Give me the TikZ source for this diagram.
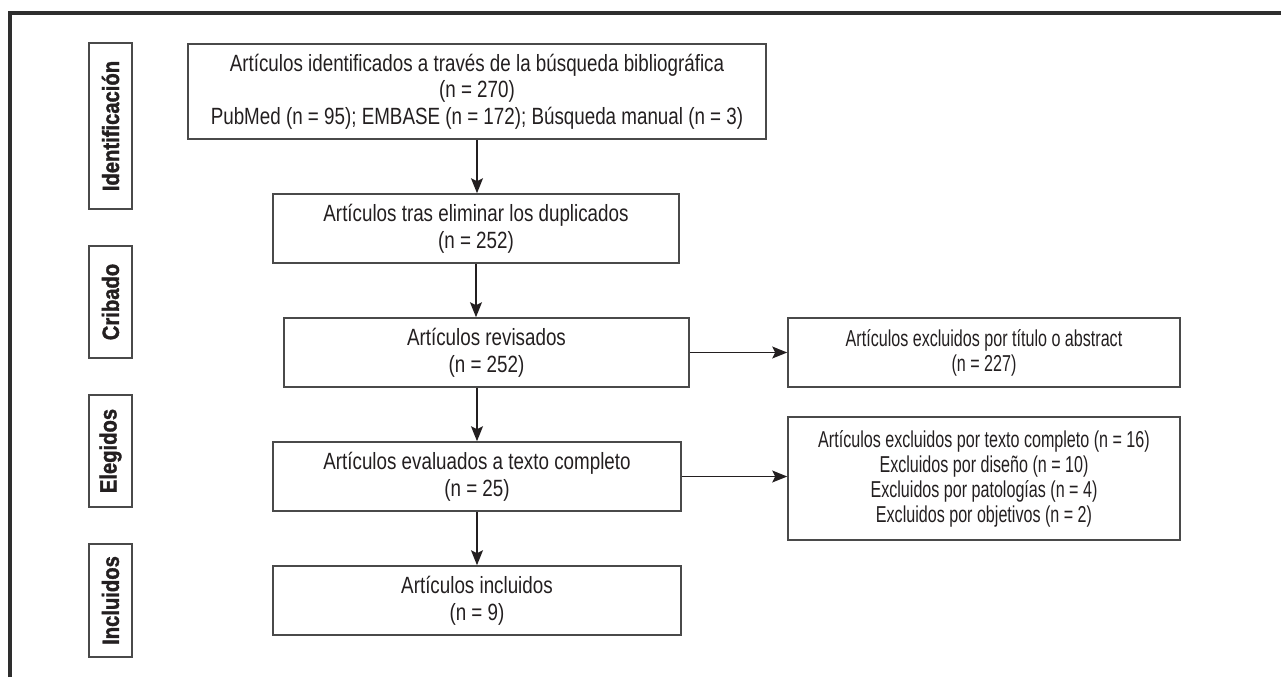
\documentclass[tikz,border=0pt]{standalone}
\usepackage{fontspec}
\setmainfont{Liberation Sans}[FakeStretch=0.8]
\newfontfamily\narrowfont{Liberation Sans}[FakeStretch=0.7]
\newfontfamily\stagefont{Liberation Sans Bold}[FakeStretch=0.86, FakeBold=1.5]
\usetikzlibrary{arrows.meta,positioning}
\definecolor{framegray}{HTML}{2E2E2E}
\definecolor{boxgray}{HTML}{4A4A4A}
\definecolor{inkgray}{HTML}{231F20}
\tikzset{>={Stealth[length=7.5pt,width=6pt,inset=1.5pt]}}
\tikzset{
  flowbox/.style={draw=boxgray, line width=0.8pt, align=center, inner sep=0pt, text=inkgray,
    font=\fontsize{11.75}{13.35}\selectfont},
  exclbox/.style={flowbox, minimum width=196pt, font=\narrowfont\fontsize{11.5}{12.5}\selectfont},
  stagebox/.style={draw=boxgray, line width=0.8pt, rotate=90, inner sep=0pt, minimum height=21.5pt,
    text=inkgray, font=\stagefont\fontsize{11.75}{13}\selectfont},
  flowarrow/.style={->, draw=inkgray, line width=0.7pt}
}

\begin{document}
\begin{tikzpicture}[x=0.5pt,y=-0.5pt]
		\useasboundingbox (0,0) rectangle (1281,677);
		\draw[framegray, line width=1.6pt] (10,677) -- (10,13) -- (1281,13);
		% stages
		\node[stagebox, minimum width=83pt] (sident) at (110.5,126) {Identificación};
		\node[stagebox, minimum width=56pt] (scrib) at (110.5,302) {Cribado};
		\node[stagebox, minimum width=56pt] (seleg) at (110.5,451) {Elegidos};
		\node[stagebox, minimum width=56.5pt] (sincl) at (110.5,600.5) {Incluidos};
		% main column
		\node[flowbox, minimum width=289pt, minimum height=47.5pt] (ident) at (477,91.5)
			{Artículos identificados a través de la búsqueda bibliográfica\\(n = 270)\\PubMed (n = 95); EMBASE (n = 172); Búsqueda manual (n = 3)};
		\node[flowbox, minimum width=203pt, minimum height=34.5pt] (dupl) at (476,228.5)
			{Artículos tras eliminar los duplicados\\(n = 252)};
		\node[flowbox, minimum width=202.5pt, minimum height=34.5pt] (revis) at (486.5,352.5)
			{Artículos revisados\\(n = 252)};
		\node[flowbox, minimum width=204pt, minimum height=34.5pt] (evalu) at (477,476.5)
			{Artículos evaluados a texto completo\\(n = 25)};
		\node[flowbox, minimum width=204pt, minimum height=34.5pt] (inclu) at (477,600.5)
			{Artículos incluidos\\(n = 9)};
		% exclusions
		\node[exclbox, minimum height=34.5pt] (exabs) at (984,352.5)
			{Artículos excluidos por título o abstract\\(n = 227)};
		\node[exclbox, minimum height=61.5pt] (extxt) at (984,478.5)
			{Artículos excluidos por texto completo (n = 16)\\Excluidos por diseño (n = 10)\\Excluidos por patologías (n = 4)\\Excluidos por objetivos (n = 2)};
		% arrows
		\draw[flowarrow] (ident.south) -- (ident.south |- dupl.north);
		\draw[flowarrow] (dupl.south) -- (dupl.south |- revis.north);
		\draw[flowarrow] (evalu.north |- revis.south) -- (evalu.north);
		\draw[flowarrow] (evalu.south) -- (inclu.north);
		\draw[flowarrow] (revis.east) -- (exabs.west);
		\draw[flowarrow] (evalu.east) -- (evalu.east -| extxt.west);
	\end{tikzpicture}
\end{document}
